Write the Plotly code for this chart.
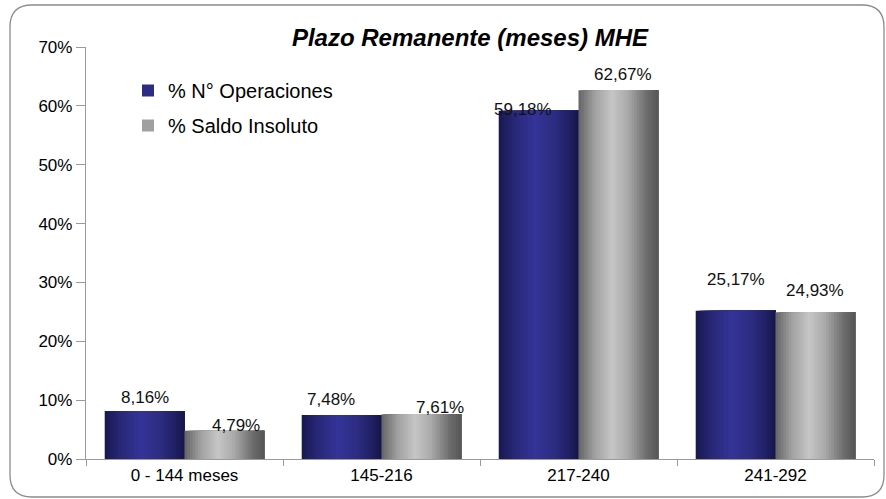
import plotly.graph_objects as go

categories = ["0 - 144 meses", "145-216", "217-240", "241-292"]
ops_values = [8.16, 7.48, 59.18, 25.17]
saldo_values = [4.79, 7.61, 62.67, 24.93]
ops_labels = ["8,16%", "7,48%", "59,18%", "25,17%"]
saldo_labels = ["4,79%", "7,61%", "62,67%", "24,93%"]
y_ticks = [0, 10, 20, 30, 40, 50, 60, 70]
y_tick_labels = ["0%", "10%", "20%", "30%", "40%", "50%", "60%", "70%"]

W, H = 886, 499
ML, MR, MT, MB = 86, 12, 47, 40
PW, PH = W - ML - MR, H - MT - MB

FONT = "Liberation Sans, Arial, sans-serif"

def lerp_color(stops, t):
    for i in range(len(stops) - 1):
        t0, c0 = stops[i]
        t1, c1 = stops[i + 1]
        if t0 <= t <= t1:
            f = (t - t0) / (t1 - t0) if t1 > t0 else 0
            c = [round(c0[k] + (c1[k] - c0[k]) * f) for k in range(3)]
            return "rgb(%d,%d,%d)" % tuple(c)
    c = stops[-1][1]
    return "rgb(%d,%d,%d)" % tuple(c)

blue_stops = [(0.0, (24, 24, 80)), (0.2, (40, 40, 120)), (0.45, (52, 52, 152)), (0.7, (44, 44, 130)), (0.88, (32, 32, 100)), (1.0, (22, 22, 72))]
gray_stops = [(0.0, (100, 100, 100)), (0.2, (160, 160, 160)), (0.42, (198, 198, 198)), (0.62, (170, 170, 170)), (0.85, (110, 110, 110)), (1.0, (85, 85, 85))]

fig = go.Figure()

N = 30
BW = 0.405

def add_series(values, start, stops, name, legend_color, group):
    dw = BW / N
    for i in range(N):
        t = (i + 0.5) / N
        fig.add_trace(go.Bar(
            x=categories, y=values,
            offset=start + i * dw, width=BW - i * dw,
            marker=dict(color=lerp_color(stops, t), line=dict(width=0)),
            showlegend=False, hoverinfo="skip",
        ))
    fig.add_trace(go.Bar(
        x=[categories[0]], y=[None], name=name,
        marker=dict(color=legend_color, line=dict(width=0)),
        showlegend=True, legendgroup=group,
    ))

add_series(ops_values, -BW, blue_stops, "% N° Operaciones", "rgb(44,44,130)", "a")
add_series(saldo_values, 0.0, gray_stops, "% Saldo Insoluto", "rgb(160,160,160)", "b")

# value labels (pixel nudges to mimic the original placement)
ops_shift = [(0, 2), (-11, 4), (-16, -10), (0, 20)]
saldo_shift = [(12, -6), (19, -5), (5, 4), (0, 10)]
for i, cat in enumerate(categories):
    dx, dy = ops_shift[i]
    fig.add_annotation(x=cat, y=ops_values[i], text=ops_labels[i], showarrow=False,
                       xref="x", yref="y", xanchor="center", yanchor="bottom",
                       xshift=-BW / 2 * PW / 4 + dx, yshift=dy,
                       font=dict(family=FONT, size=17, color="#111"))
    dx, dy = saldo_shift[i]
    fig.add_annotation(x=cat, y=saldo_values[i], text=saldo_labels[i], showarrow=False,
                       xref="x", yref="y", xanchor="center", yanchor="bottom",
                       xshift=BW / 2 * PW / 4 + dx, yshift=dy,
                       font=dict(family=FONT, size=17, color="#111"))

def px_x(px):
    return (px - ML) / PW

def px_y(py):
    return (H - MB - py) / PH

# rounded border
x0, x1, y0, y1, r = 10, 884, 5, 497, 22
path = (
    f"M {px_x(x0 + r)} {px_y(y0)} L {px_x(x1 - r)} {px_y(y0)} "
    f"Q {px_x(x1)} {px_y(y0)} {px_x(x1)} {px_y(y0 + r)} "
    f"L {px_x(x1)} {px_y(y1 - r)} Q {px_x(x1)} {px_y(y1)} {px_x(x1 - r)} {px_y(y1)} "
    f"L {px_x(x0 + r)} {px_y(y1)} Q {px_x(x0)} {px_y(y1)} {px_x(x0)} {px_y(y1 - r)} "
    f"L {px_x(x0)} {px_y(y0 + r)} Q {px_x(x0)} {px_y(y0)} {px_x(x0 + r)} {px_y(y0)} Z"
)
fig.add_shape(type="path", path=path, xref="paper", yref="paper",
              line=dict(color="#8c8c8c", width=1.3), fillcolor="rgba(0,0,0,0)", layer="below")

fig.update_layout(
    width=W, height=H,
    margin=dict(l=ML, r=MR, t=MT, b=MB),
    paper_bgcolor="white", plot_bgcolor="white",
    barmode="overlay",
    title=dict(text="<b><i>Plazo Remanente (meses) MHE</i></b>", x=px_x(470), xref="paper",
               xanchor="center", y=1 - 38 / H, yanchor="middle",
               font=dict(family=FONT, size=24, color="#000")),
    legend=dict(x=px_x(128), y=px_y(71), xanchor="left", yanchor="top",
                font=dict(family=FONT, size=20, color="#000"),
                bgcolor="rgba(0,0,0,0)", tracegroupgap=6, itemwidth=30),
    font=dict(family=FONT),
    showlegend=True,
)
fig.update_xaxes(
    type="category", categoryorder="array", categoryarray=categories,
    showline=True, linecolor="#9a9a9a", linewidth=1.3,
    ticks="outside", tickson="boundaries", ticklen=6, tickcolor="#9a9a9a",
    tickfont=dict(family=FONT, size=17, color="#000"),
    showgrid=False, range=[-0.5, 3.5],
)
fig.update_yaxes(
    range=[0, 70], tickvals=y_ticks, ticktext=y_tick_labels,
    showline=True, linecolor="#9a9a9a", linewidth=1.3,
    ticks="outside", ticklen=9, tickcolor="#9a9a9a",
    tickfont=dict(family=FONT, size=17, color="#000"),
    showgrid=False, zeroline=False,
)

fig.write_html("out.html", config={"displayModeBar": False},
               post_script="document.body.style.margin='0';document.body.style.overflow='hidden';")
